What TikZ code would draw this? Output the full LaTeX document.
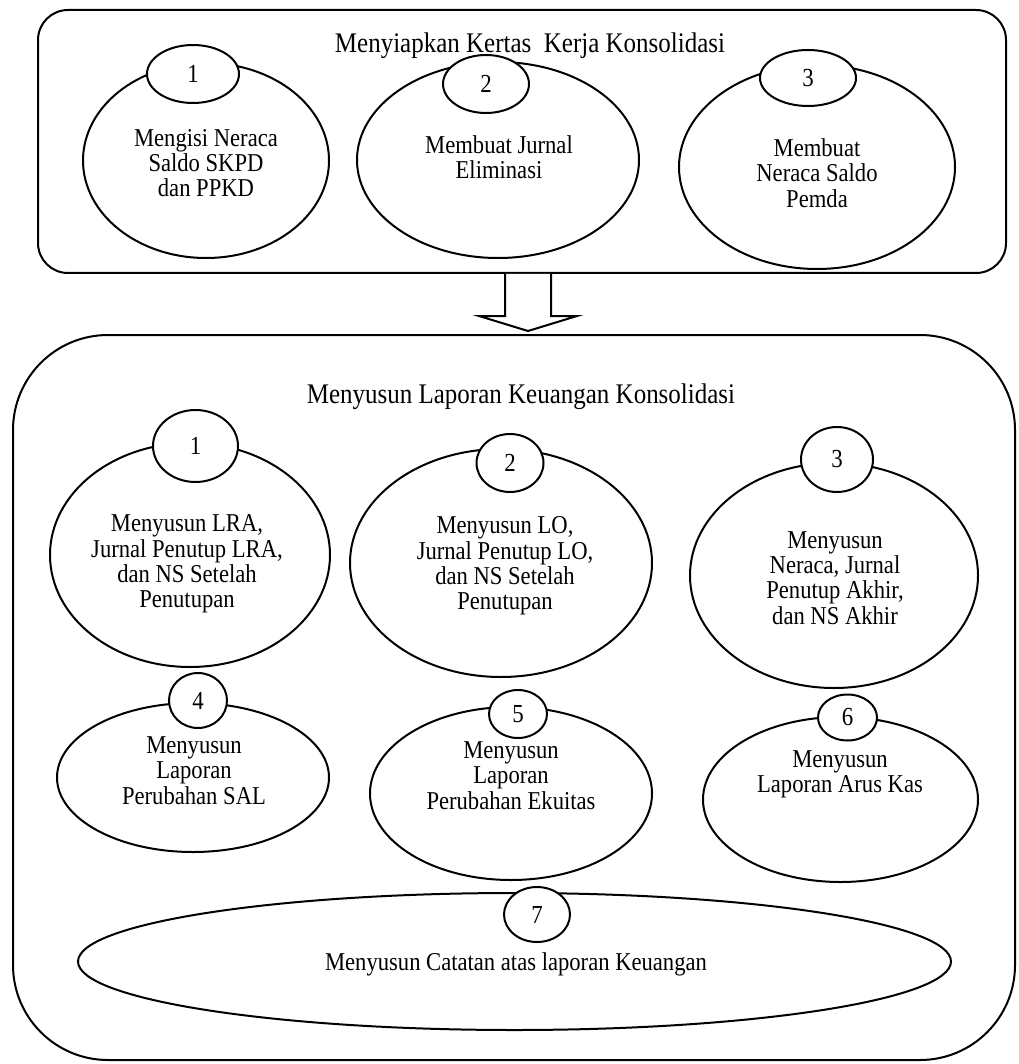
\documentclass[tikz,border=0pt]{standalone}
\usepackage{fontspec}
\setmainfont{Liberation Serif}[FakeStretch=0.88]
\usetikzlibrary{shapes.geometric}
\tikzset{
  frame/.style={draw, line width=2pt, rounded corners=#1, inner sep=0pt},
  big/.style={draw, ellipse, line width=2pt, inner sep=0pt},
  num/.style={draw, ellipse, fill=white, line width=2pt, inner sep=0pt, font=\fontsize{26}{28}\selectfont},
  txt/.style={align=center, inner sep=0pt, font=\fontsize{25.7}{25.3}\selectfont},
  ttl/.style={inner sep=0pt, font=\fontsize{28.4}{30}\selectfont},
}
\begin{document}
\begin{tikzpicture}[x=1pt,y=-1pt]
\useasboundingbox (0,0) rectangle (1018,1064);
% frames
\node[frame=30pt, minimum width=968pt, minimum height=263pt] (top) at (522,141.5) {};
\node[frame=95pt, minimum width=1002pt, minimum height=725pt] (bot) at (514,697.5) {};
% top row
\node[big, minimum width=246pt, minimum height=195pt] (e1) at (206,160.5) {};
\node[big, minimum width=282pt, minimum height=196pt] (e2) at (498,160) {};
\node[big, minimum width=276pt, minimum height=204pt] (e3) at (817,167) {};
\node[num, minimum width=92pt, minimum height=58pt] (c1) at (193,74) {1};
\node[num, minimum width=86pt, minimum height=58pt] (c2) at (486,84) {2};
\node[num, minimum width=96pt, minimum height=56pt] (c3) at (808,78) {3};
\node[txt] (t1) at (206,163) {Mengisi Neraca\\Saldo SKPD\\dan PPKD};
\node[txt] (t2) at (499,157) {Membuat Jurnal\\Eliminasi};
\node[txt] (t3) at (817,173) {Membuat\\Neraca Saldo\\Pemda};
\node[ttl] (title1) at (530,46) {Menyiapkan Kertas\ \ Kerja Konsolidasi};
% arrow
\coordinate (ac) at (528,0);
\path (top.south -| ac) coordinate (as);
\draw[line width=2pt, fill=white, line join=miter] ([xshift=-23pt]as) -- ++(0,42) -- ++(-26,0) -- ++(49,15) -- ++(49,-15) -- ++(-26,0) -- ++(0,-42);
% bottom frame content
\node[ttl] (title2) at (521,397) {Menyusun Laporan Keuangan Konsolidasi};
\node[big, minimum width=280pt, minimum height=224pt] (f1) at (190,555) {};
\node[big, minimum width=302pt, minimum height=228pt] (f2) at (501,563) {};
\node[big, minimum width=288pt, minimum height=225pt] (f3) at (834,575.5) {};
\node[big, minimum width=272pt, minimum height=149pt] (f4) at (193,777.5) {};
\node[big, minimum width=282pt, minimum height=173pt] (f5) at (511,793.5) {};
\node[big, minimum width=275pt, minimum height=165pt] (f6) at (840.5,799.5) {};
\node[big, minimum width=873pt, minimum height=137pt] (f7) at (514.5,961.5) {};
\node[num, minimum width=85pt, minimum height=72pt] (d1) at (195.5,446) {1};
\node[num, minimum width=67pt, minimum height=58pt] (d2) at (510,463) {2};
\node[num, minimum width=72pt, minimum height=65pt] (d3) at (837,459.5) {3};
\node[num, minimum width=58pt, minimum height=55pt] (d4) at (198,700.5) {4};
\node[num, minimum width=58pt, minimum height=48pt] (d5) at (518,714) {5};
\node[num, minimum width=59pt, minimum height=46pt] (d6) at (847.5,717.5) {6};
\node[num, minimum width=66pt, minimum height=55pt] (d7) at (537,914.5) {7};
\node[txt] (g1) at (187,564) {Menyusun LRA,\\Jurnal Penutup LRA,\\dan NS Setelah\\Penutupan};
\node[txt] (g2) at (505,566) {Menyusun LO,\\Jurnal Penutup LO,\\dan NS Setelah\\Penutupan};
\node[txt] (g3) at (835,578) {Menyusun\\Neraca, Jurnal\\Penutup Akhir,\\dan NS Akhir};
\node[txt] (g4) at (194,770.5) {Menyusun\\Laporan\\Perubahan SAL};
\node[txt] (g5) at (511,775.5) {Menyusun\\Laporan\\Perubahan Ekuitas};
\node[txt] (g6) at (840,774.5) {Menyusun\\Laporan Arus Kas};
\node[txt] (g7) at (516,964) {Menyusun Catatan atas laporan Keuangan};
\end{tikzpicture}
\end{document}
